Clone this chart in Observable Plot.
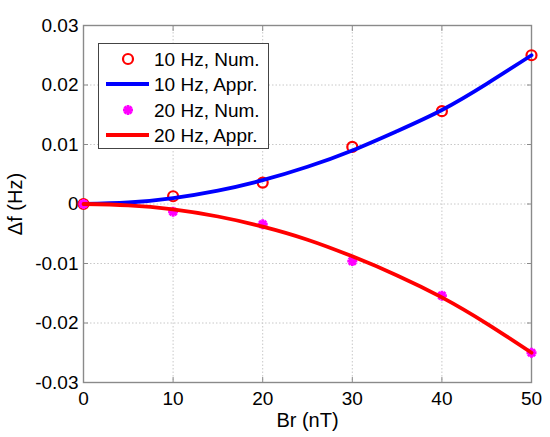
<!DOCTYPE html>
<html>
<head>
<meta charset="utf-8">
<script src="https://cdn.jsdelivr.net/npm/d3@7"></script>
<script src="https://cdn.jsdelivr.net/npm/@observablehq/plot@0.6"></script>
<style>
  html, body { margin: 0; padding: 0; background: #fff; }
  #wrap { position: relative; width: 550px; height: 437px; font-family: "Liberation Sans", Arial, sans-serif; }
  #legend { position: absolute; left: 98px; top: 43px; width: 171px; height: 106px; background: #fff; border: 1px solid #444; box-sizing: border-box; }
  .axlabel text[text-anchor="middle"] { }
</style>
</head>
<body>
<div id="wrap"></div>
<script>
// ---- data ----
const brNum = [0, 10, 20, 30, 40, 50];
const num10 = [0, 0.0013, 0.0036, 0.0096, 0.0156, 0.025];
const num20 = [0, -0.0013, -0.0034, -0.0096, -0.0154, -0.025];
const brAppr = [0, 5, 10, 15, 20, 25, 30, 35, 40, 45, 50];
const appr10 = [0, 0.00025, 0.001, 0.00225, 0.004, 0.00625, 0.009, 0.01225, 0.0158, 0.0202, 0.025];
const appr20 = [0, -0.00022, -0.0009, -0.0021, -0.0038, -0.006, -0.0088, -0.012, -0.0157, -0.0201, -0.025];
const xTicks = [0, 10, 20, 30, 40, 50];
const yTicks = [-0.03, -0.02, -0.01, 0, 0.01, 0.02, 0.03];
const seriesLabels = ["10 Hz, Num.", "10 Hz, Appr.", "20 Hz, Num.", "20 Hz, Appr."];

const numRows10 = brNum.map((x, i) => ({x, y: num10[i]}));
const numRows20 = brNum.map((x, i) => ({x, y: num20[i]}));
const apprRows10 = brAppr.map((x, i) => ({x, y: appr10[i]}));
const apprRows20 = brAppr.map((x, i) => ({x, y: appr20[i]}));

// MATLAB-like 8-arm asterisk
const star8 = {
  draw(ctx, size) {
    const r = Math.sqrt(size / Math.PI);
    const d = r * Math.SQRT1_2;
    ctx.moveTo(-r, 0); ctx.lineTo(r, 0);
    ctx.moveTo(0, -r); ctx.lineTo(0, r);
    ctx.moveTo(-d, -d); ctx.lineTo(d, d);
    ctx.moveTo(-d, d); ctx.lineTo(d, -d);
  }
};

const yFmt = d => d === 0 ? "0" : d.toFixed(2);
const frameColor = "#8a8a8a";
const FS = 19;

const chart = Plot.plot({
  width: 550,
  height: 437,
  marginLeft: 83,
  marginRight: 19,
  marginTop: 25,
  marginBottom: 55,
  style: { fontFamily: "'Liberation Sans', Arial, sans-serif", fontSize: FS + "px", color: "#000", background: "#fff" },
  x: { domain: [0, 50] },
  y: { domain: [-0.03, 0.03] },
  marks: [
    Plot.gridX(xTicks, { stroke: "#c8c8c8", strokeOpacity: 1, strokeDasharray: "1.5,2" }),
    Plot.gridY(yTicks, { stroke: "#c8c8c8", strokeOpacity: 1, strokeDasharray: "1.5,2" }),
    Plot.axisX(xTicks, { anchor: "bottom", tickSize: -5, tickPadding: 14, stroke: frameColor, fill: "#000", tickFormat: d3.format("d"),
      label: "Br (nT)", labelAnchor: "center", labelArrow: "none", labelOffset: 44, fontSize: FS }),
    Plot.axisX(xTicks, { anchor: "top", tickSize: -5, stroke: frameColor, tickFormat: () => "", label: null }),
    Plot.axisY(yTicks, { anchor: "left", tickSize: -5, tickPadding: 10, stroke: frameColor, fill: "#000", tickFormat: yFmt,
      label: "Δf (Hz)", labelAnchor: "center", labelArrow: "none", labelOffset: 76, fontSize: FS }),
    Plot.axisY(yTicks, { anchor: "right", tickSize: -5, stroke: frameColor, tickFormat: () => "", label: null }),
    Plot.frame({ stroke: frameColor, strokeWidth: 1.4 }),
    Plot.dot(numRows10, { x: "x", y: "y", r: 5, stroke: "#ff0000", strokeWidth: 2.2, fill: "none" }),
    Plot.line(apprRows10, { x: "x", y: "y", stroke: "#0000ff", strokeWidth: 3.8, curve: "natural" }),
    Plot.dot(numRows20, { x: "x", y: "y", r: 5, symbol: star8, stroke: "#ff00ff", strokeWidth: 2.8, fill: "none" }),
    Plot.line(apprRows20, { x: "x", y: "y", stroke: "#ff0000", strokeWidth: 3.8, curve: "natural" })
  ]
});

const wrap = document.getElementById("wrap");
wrap.appendChild(chart);

// slightly larger axis titles, as in the reference
d3.select(chart).selectAll("g[aria-label='x-axis label'] text, g[aria-label='y-axis label'] text").attr("font-size", 20);

// legend overlay
const legend = document.createElement("div");
legend.id = "legend";
wrap.appendChild(legend);
const lsvg = d3.select(legend).append("svg").attr("width", 169).attr("height", 104)
  .style("font-family", "'Liberation Sans', Arial, sans-serif").style("font-size", FS + "px");
const rowsY = [15, 40, 66, 91];
const kinds = ["circle", "blue", "star", "red"];
seriesLabels.forEach((lab, i) => {
  const g = lsvg.append("g").attr("transform", `translate(0,${rowsY[i]})`);
  if (kinds[i] === "circle") {
    g.append("circle").attr("cx", 29).attr("cy", 0).attr("r", 5).attr("fill", "none").attr("stroke", "#ff0000").attr("stroke-width", 2.2);
  } else if (kinds[i] === "star") {
    g.append("path").attr("transform", "translate(29,0)").attr("d", d3.symbol(star8, 25 * Math.PI)()).attr("fill", "none").attr("stroke", "#ff00ff").attr("stroke-width", 2.8);
  } else {
    g.append("line").attr("x1", 7).attr("x2", 50).attr("y1", 0).attr("y2", 0)
      .attr("stroke", kinds[i] === "blue" ? "#0000ff" : "#ff0000").attr("stroke-width", 3.8);
  }
  g.append("text").attr("x", 55).attr("y", 0).attr("dy", "0.36em").attr("fill", "#000").text(lab);
});
</script>
</body>
</html>
